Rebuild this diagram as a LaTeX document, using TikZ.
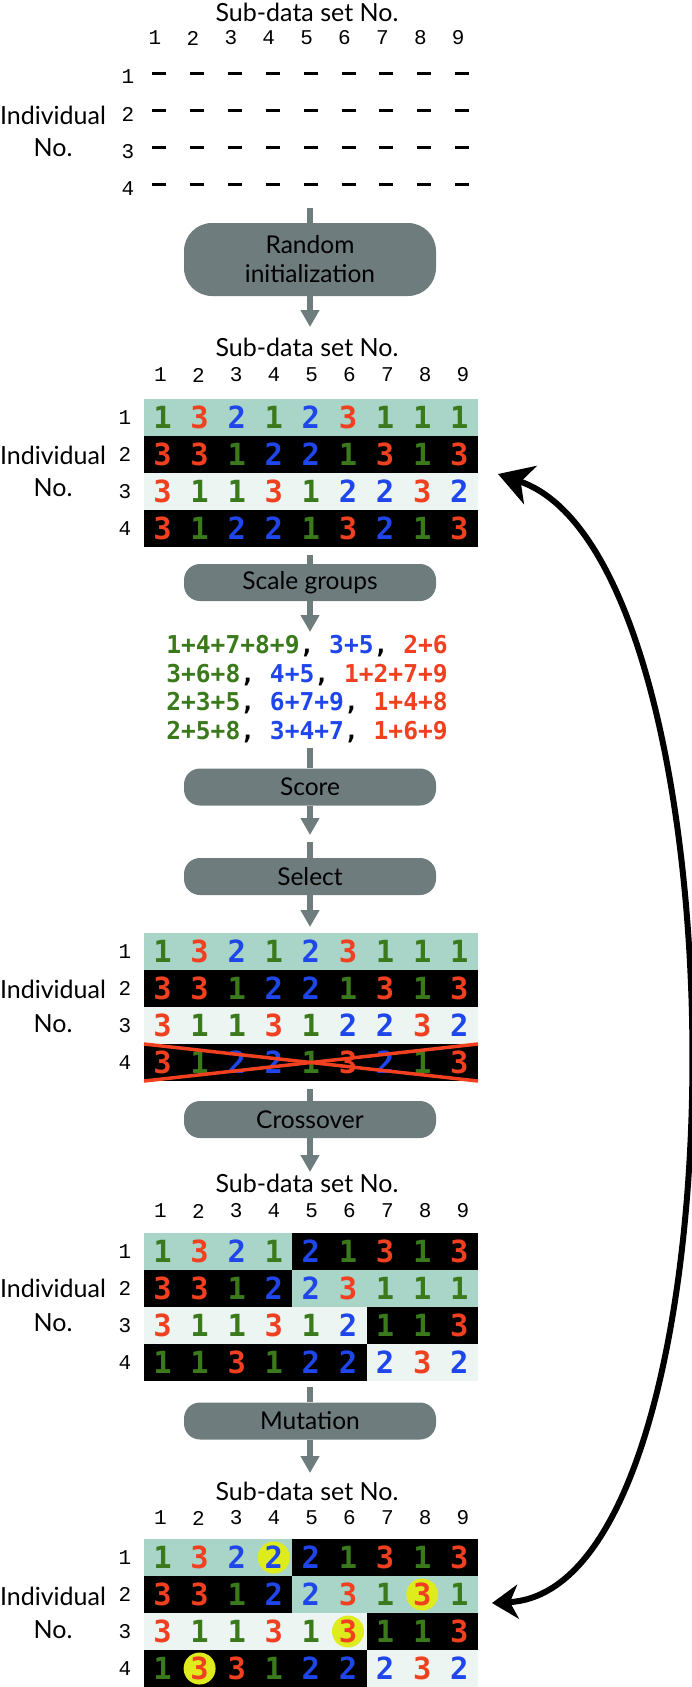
\documentclass[tikz,border=0pt]{standalone}
\usepackage{fontspec}
\setmainfont{Lato}
\newfontfamily\courier{Liberation Mono}
\newfontfamily\chunky{DejaVu Sans Mono}
\usetikzlibrary{arrows.meta}

\definecolor{stepgray}{RGB}{110,124,126}
\definecolor{gone}{RGB}{58,122,28}
\definecolor{gtwo}{RGB}{30,70,235}
\definecolor{gthree}{RGB}{240,64,32}
\definecolor{rowteal}{RGB}{168,213,200}
\definecolor{rowpale}{RGB}{236,245,242}
\definecolor{mutyellow}{RGB}{222,236,30}

\newcommand{\gene}[1]{\ifcase#1\or\textcolor{gone}{1}\or\textcolor{gtwo}{2}\or\textcolor{gthree}{3}\fi}

\begin{document}
\begin{tikzpicture}[x=1pt, y=-1pt,
    heading/.style={font=\fontsize{25}{27}\selectfont, inner sep=0pt},
    num/.style={font=\courier\fontsize{21}{22}\selectfont, inner sep=0pt},
    gene/.style={font=\chunky\bfseries\fontsize{30.5}{31}\selectfont, inner sep=0pt},
    stepbox/.style={fill=stepgray, rounded corners=16pt, minimum width=252pt, minimum height=37pt,
      inner sep=0pt, align=center, font=\fontsize{24.5}{29}\selectfont},
    flow/.style={stepgray, line width=6.5pt},
    flowarrow/.style={flow, -{Triangle[width=18pt,length=17pt]}},
    backloop/.style={line width=6pt, {Stealth[length=26pt,width=34pt,inset=8pt]}-{Stealth[length=34pt,width=40pt,inset=10pt]}},
    mutant/.style={circle, fill=mutyellow, minimum size=32pt, inner sep=0pt}]

  \useasboundingbox (0,0) rectangle (692,1687);

  % empty population
  \node[heading] (sub0) at (307,12) {Sub-data set No.};
  \foreach \c in {1,...,9}
    \node[num] (c0-\c) at ({155+37.9*(\c-1)},38) {\c};
  \foreach \r in {1,...,4} {
    \node[num] (r0-\r) at (128,{77+37.2*(\r-1)}) {\r};
    \foreach \c in {1,...,9}
      \draw[line width=3pt] ({152+37.9*(\c-1)},{73+37.2*(\r-1)}) -- ++(14,0);
  }
  \node[heading] (ind0) at (53,115) {Individual};
  \node[heading] (no0) at (53,148) {No.};

  \coordinate (s0) at (310,208);
  \node[stepbox, minimum height=73pt, rounded corners=28pt] (init) at (310,259.5) {Random\\initialization};
  \coordinate (e0) at (310,327);
  \draw[flow] (s0) -- (init.north);
  \draw[flowarrow] (init.south) -- (e0);

  % random population
  \node[heading] (sub1) at (307,347) {Sub-data set No.};
  \foreach \c in {1,...,9}
    \node[num] (c1-\c) at ({160.5+37.8*(\c-1)},375) {\c};
  \fill[rowteal] (144,399) rectangle ++(334,37);
  \fill[black] (144,436) rectangle ++(334,37);
  \fill[rowpale] (144,473) rectangle ++(334,37);
  \fill[black] (144,510) rectangle ++(334,37);
  \foreach \r/\genes in {1/{1,3,2,1,2,3,1,1,1}, 2/{3,3,1,2,2,1,3,1,3}, 3/{3,1,1,3,1,2,2,3,2}, 4/{3,1,2,2,1,3,2,1,3}} {
    \node[num] (r1-\r) at (125,{417.5+37*(\r-1)}) {\r};
    \foreach \g [count=\c] in \genes
      \node[gene] (p1-\r-\c) at ({162.5+37.1*(\c-1)},{417.5+37*(\r-1)}) {\gene{\g}};
  }
  \node[heading] (ind1) at (53,455) {Individual};
  \node[heading] (no1) at (53,488) {No.};

  \coordinate (s1) at (310,555);
  \node[stepbox] (scale) at (310,582.5) {Scale groups};
  \coordinate (e1) at (310,632);
  \draw[flow] (s1) -- (scale.north);
  \draw[flowarrow] (scale.south) -- (e1);

  \node[font=\chunky\bfseries\fontsize{24.6}{28.5}\selectfont, align=center, inner sep=0pt] (groups) at (307,689)
    {\textcolor{gone}{1+4+7+8+9}, \textcolor{gtwo}{3+5}, \textcolor{gthree}{2+6}\\
     \textcolor{gone}{3+6+8}, \textcolor{gtwo}{4+5}, \textcolor{gthree}{1+2+7+9}\\
     \textcolor{gone}{2+3+5}, \textcolor{gtwo}{6+7+9}, \textcolor{gthree}{1+4+8}\\
     \textcolor{gone}{2+5+8}, \textcolor{gtwo}{3+4+7}, \textcolor{gthree}{1+6+9}};

  \coordinate (s2) at (310,748);
  \node[stepbox] (score) at (310,787) {Score};
  \coordinate (e2) at (310,835);
  \draw[flow] (s2) -- (score.north);
  \draw[flowarrow] (score.south) -- (e2);

  \coordinate (s3) at (310,842);
  \node[stepbox] (select) at (310,876.5) {Select};
  \coordinate (e3) at (310,927);
  \draw[flow] (s3) -- (select.north);
  \draw[flowarrow] (select.south) -- (e3);

  % selected population
  \fill[rowteal] (144,933) rectangle ++(334,37);
  \fill[black] (144,970) rectangle ++(334,37);
  \fill[rowpale] (144,1007) rectangle ++(334,37);
  \fill[black] (144,1044) rectangle ++(334,37);
  \foreach \r/\genes in {1/{1,3,2,1,2,3,1,1,1}, 2/{3,3,1,2,2,1,3,1,3}, 3/{3,1,1,3,1,2,2,3,2}, 4/{3,1,2,2,1,3,2,1,3}} {
    \node[num] (r2-\r) at (125,{951.5+37*(\r-1)}) {\r};
    \foreach \g [count=\c] in \genes
      \node[gene] (p2-\r-\c) at ({162.5+37.1*(\c-1)},{951.5+37*(\r-1)}) {\gene{\g}};
  }
  \draw[gthree, line width=3.5pt] (144,1044) -- (478,1081);
  \draw[gthree, line width=3.5pt] (144,1081) -- (478,1044);
  \node[heading] (ind2) at (53,989) {Individual};
  \node[heading] (no2) at (53,1024) {No.};

  \coordinate (s4) at (310,1089);
  \node[stepbox] (cross) at (310,1119.5) {Crossover};
  \coordinate (e4) at (310,1172);
  \draw[flow] (s4) -- (cross.north);
  \draw[flowarrow] (cross.south) -- (e4);

  % after crossover
  \node[heading] (sub3) at (307,1183) {Sub-data set No.};
  \foreach \c in {1,...,9}
    \node[num] (c3-\c) at ({160.5+37.8*(\c-1)},1211) {\c};
  \fill[rowteal] (144,1233) rectangle ++(148.4,37);
  \fill[black] (292.4,1233) rectangle (478,1270);
  \fill[black] (144,1270) rectangle ++(148.4,37);
  \fill[rowteal] (292.4,1270) rectangle (478,1307);
  \fill[rowpale] (144,1307) rectangle ++(222.6,37);
  \fill[black] (366.6,1307) rectangle (478,1344);
  \fill[black] (144,1344) rectangle ++(222.6,37);
  \fill[rowpale] (366.6,1344) rectangle (478,1381);
  \foreach \r/\genes in {1/{1,3,2,1,2,1,3,1,3}, 2/{3,3,1,2,2,3,1,1,1}, 3/{3,1,1,3,1,2,1,1,3}, 4/{1,1,3,1,2,2,2,3,2}} {
    \node[num] (r3-\r) at (125,{1251.5+37*(\r-1)}) {\r};
    \foreach \g [count=\c] in \genes
      \node[gene] (p3-\r-\c) at ({162.5+37.1*(\c-1)},{1251.5+37*(\r-1)}) {\gene{\g}};
  }
  \node[heading] (ind3) at (53,1288) {Individual};
  \node[heading] (no3) at (53,1323) {No.};

  \coordinate (s5) at (310,1387);
  \node[stepbox] (mutate) at (310,1421) {Mutation};
  \coordinate (e5) at (310,1473);
  \draw[flow] (s5) -- (mutate.north);
  \draw[flowarrow] (mutate.south) -- (e5);

  % after mutation
  \node[heading] (sub4) at (307,1491) {Sub-data set No.};
  \foreach \c in {1,...,9}
    \node[num] (c4-\c) at ({160.5+37.8*(\c-1)},1518) {\c};
  \fill[rowteal] (144,1539) rectangle ++(148.4,37);
  \fill[black] (292.4,1539) rectangle (478,1576);
  \fill[black] (144,1576) rectangle ++(148.4,37);
  \fill[rowteal] (292.4,1576) rectangle (478,1613);
  \fill[rowpale] (144,1613) rectangle ++(222.6,37);
  \fill[black] (366.6,1613) rectangle (478,1650);
  \fill[black] (144,1650) rectangle ++(222.6,37);
  \fill[rowpale] (366.6,1650) rectangle (478,1687);
  \node[mutant] (m1) at (273.8,1557.5) {};
  \node[mutant] (m2) at (422.2,1594.5) {};
  \node[mutant] (m3) at (348,1631.5) {};
  \node[mutant] (m4) at (199.6,1668.5) {};
  \foreach \r/\genes in {1/{1,3,2,2,2,1,3,1,3}, 2/{3,3,1,2,2,3,1,3,1}, 3/{3,1,1,3,1,3,1,1,3}, 4/{1,3,3,1,2,2,2,3,2}} {
    \node[num] (r4-\r) at (125,{1557.5+37*(\r-1)}) {\r};
    \foreach \g [count=\c] in \genes
      \node[gene] (p4-\r-\c) at ({162.5+37.1*(\c-1)},{1557.5+37*(\r-1)}) {\gene{\g}};
  }
  \node[heading] (ind4) at (53,1596) {Individual};
  \node[heading] (no4) at (53,1630) {No.};

  % loop back to the population
  \coordinate (loopout) at (492,1603);
  \coordinate (loopin) at (498,474);
  \draw[backloop] (loopout) .. controls (752,1590) and (752,560) .. (loopin);
\end{tikzpicture}
\end{document}
